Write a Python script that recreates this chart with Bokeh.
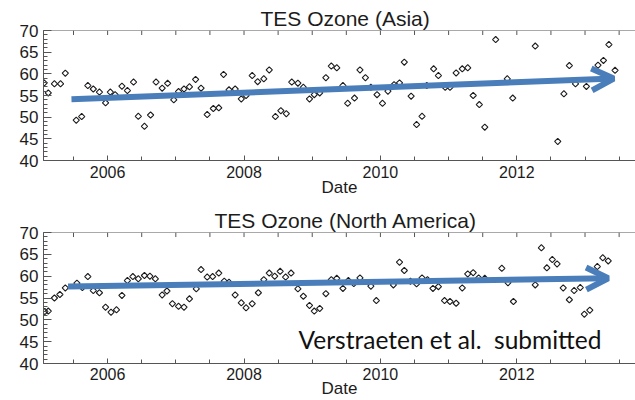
import numpy as np
from bokeh.plotting import figure
from bokeh.layouts import column
from bokeh.models import Range1d, FixedTicker, Arrow, OpenHead, Label, Span
from bokeh.embed import file_html
from bokeh.resources import INLINE

# Monthly mean TES ozone (ppb), decimal year vs. value
asia_date = [2005.07, 2005.13, 2005.22, 2005.31, 2005.38, 2005.54, 2005.62, 2005.71, 2005.79, 2005.88,
             2005.97, 2006.04, 2006.11, 2006.21, 2006.29, 2006.38, 2006.45, 2006.54, 2006.63, 2006.71,
             2006.80, 2006.88, 2006.97, 2007.04, 2007.12, 2007.20, 2007.29, 2007.37, 2007.46, 2007.55,
             2007.63, 2007.70, 2007.78, 2007.87, 2007.96, 2008.03, 2008.12, 2008.20, 2008.29, 2008.37,
             2008.46, 2008.54, 2008.62, 2008.70, 2008.79, 2008.87, 2008.96, 2009.03, 2009.11, 2009.20,
             2009.28, 2009.36, 2009.45, 2009.52, 2009.62, 2009.70, 2009.78, 2009.86, 2009.95, 2010.03,
             2010.11, 2010.20, 2010.28, 2010.35, 2010.45, 2010.53, 2010.61, 2010.68, 2010.78, 2010.85,
             2010.95, 2011.02, 2011.11, 2011.20, 2011.28, 2011.36, 2011.45, 2011.53, 2011.69, 2011.86,
             2011.94, 2012.27, 2012.60, 2012.69, 2012.77, 2012.86, 2013.02, 2013.19, 2013.27, 2013.35,
             2013.44]
asia_ozone = [57.9, 55.6, 57.7, 57.7, 60.15, 49.3, 50.15, 57.3, 56.5, 55.8,
              53.3, 55.8, 55.2, 57.15, 56.15, 58.1, 50.2, 47.9, 50.5, 58.1,
              56.7, 57.8, 54.0, 55.9, 56.5, 57.0, 58.7, 56.7, 50.6, 52.0,
              52.15, 59.85, 56.3, 56.5, 54.2, 55.0, 59.6, 58.2, 58.85, 60.9,
              50.15, 51.5, 50.8, 58.1, 57.85, 56.9, 54.2, 55.2, 55.6, 59.1,
              61.8, 61.4, 57.3, 53.2, 54.4, 60.9, 59.1, 56.9, 55.2, 53.2,
              56.0, 57.5, 57.9, 62.7, 54.85, 48.3, 50.2, 57.3, 61.15, 59.6,
              56.9, 56.9, 60.2, 61.15, 61.4, 55.0, 52.9, 47.7, 67.9, 58.85,
              54.4, 66.4, 44.4, 55.4, 61.9, 57.7, 57.1, 62.0, 63.1, 66.75,
              60.8]

na_date = [2005.08, 2005.13, 2005.22, 2005.30, 2005.38, 2005.55, 2005.63, 2005.71, 2005.79, 2005.88,
           2005.97, 2006.05, 2006.13, 2006.21, 2006.29, 2006.37, 2006.45, 2006.54, 2006.62, 2006.70,
           2006.80, 2006.87, 2006.95, 2007.04, 2007.12, 2007.20, 2007.30, 2007.37, 2007.46, 2007.54,
           2007.63, 2007.71, 2007.78, 2007.87, 2007.96, 2008.03, 2008.12, 2008.21, 2008.29, 2008.37,
           2008.45, 2008.53, 2008.61, 2008.69, 2008.79, 2008.87, 2008.96, 2009.03, 2009.11, 2009.20,
           2009.28, 2009.36, 2009.45, 2009.53, 2009.61, 2009.70, 2009.86, 2009.94, 2010.19, 2010.28,
           2010.35, 2010.44, 2010.53, 2010.61, 2010.69, 2010.77, 2010.85, 2010.94, 2011.02, 2011.11,
           2011.20, 2011.28, 2011.36, 2011.44, 2011.53, 2011.78, 2011.87, 2011.95, 2012.27, 2012.36,
           2012.44, 2012.52, 2012.59, 2012.68, 2012.77, 2012.84, 2012.93, 2012.99, 2013.07, 2013.18,
           2013.26, 2013.34]
na_ozone = [51.9, 52.0, 55.0, 55.8, 57.3, 58.4, 57.4, 59.9, 56.7, 56.2,
            52.9, 51.75, 52.3, 55.6, 59.0, 59.9, 59.4, 60.15, 60.0, 59.4,
            55.7, 56.6, 53.7, 53.1, 52.9, 54.8, 57.1, 61.5, 59.8, 59.9,
            60.7, 58.85, 58.6, 55.7, 53.9, 52.75, 53.7, 56.2, 59.2, 60.7,
            60.0, 61.1, 59.8, 60.7, 57.1, 55.4, 53.3, 52.0, 52.6, 56.0,
            59.2, 59.5, 57.2, 59.0, 58.3, 59.6, 57.7, 54.4, 58.0, 63.2,
            61.3, 58.85, 58.25, 59.6, 59.2, 57.2, 57.6, 54.4, 54.2, 53.8,
            57.3, 60.5, 60.8, 59.6, 59.5, 61.8, 58.5, 54.2, 58.0, 66.5,
            61.9, 63.8, 62.8, 57.3, 54.6, 56.7, 57.4, 51.3, 52.2, 62.2,
            64.2, 63.5]

# Trend arrows (start / end of each fitted line)
asia_trend_x = [2005.47, 2013.42]
asia_trend_y = [54.15, 58.9]
na_trend_x = [2005.42, 2013.34]
na_trend_y = [57.63, 59.53]

year_ticks = [2006, 2008, 2010, 2012]
half_year_ticks = [2005.5 + 0.5 * i for i in range(17)]
ozone_ticks = [40, 45, 50, 55, 60, 65, 70]
ozone_minor = list(range(40, 71))

Y_MIN, Y_MAX = 40, 70
FONT = "Liberation Sans"
INK = "#1c1c1c"
AXIS = "#555555"
BLUE = "#4A7EBB"


def ozone_panel(title, title_offset, dates, ozone, trend_x, trend_y,
                top, bottom, label_standoff, date_standoff):
    p = figure(width=635, height=200,
               x_range=Range1d(2005.06, 2013.74), y_range=Range1d(Y_MIN, Y_MAX),
               output_backend="svg", toolbar_location=None,
               min_border_left=43, min_border_right=0,
               min_border_top=top, min_border_bottom=bottom)
    p.outline_line_color = None
    p.xgrid.visible = False
    p.ygrid.visible = False

    p.title.text = title
    p.title.align = "left"
    p.title.offset = title_offset
    p.title.text_font = FONT
    p.title.text_font_size = "21px"
    p.title.text_font_style = "normal"
    p.title.text_color = INK
    p.title.standoff = 2

    xa = p.xaxis[0]
    xa.ticker = FixedTicker(ticks=year_ticks, minor_ticks=half_year_ticks)
    xa.axis_label = "Date"
    xa.axis_label_text_font = FONT
    xa.axis_label_text_font_size = "17px"
    xa.axis_label_text_font_style = "normal"
    xa.axis_label_text_color = INK
    xa.axis_label_standoff = date_standoff
    xa.major_label_text_font = FONT
    xa.major_label_text_font_size = "16px"
    xa.major_label_text_color = INK
    xa.major_label_standoff = label_standoff
    xa.axis_line_color = AXIS
    xa.major_tick_line_color = AXIS
    xa.minor_tick_line_color = AXIS
    xa.major_tick_in = 5
    xa.major_tick_out = 0
    xa.minor_tick_in = 4
    xa.minor_tick_out = 0

    ya = p.yaxis[0]
    ya.ticker = FixedTicker(ticks=ozone_ticks, minor_ticks=ozone_minor)
    ya.axis_line_color = AXIS
    ya.major_tick_line_color = AXIS
    ya.minor_tick_line_color = AXIS
    ya.major_tick_in = 8
    ya.major_tick_out = 0
    ya.minor_tick_in = 4
    ya.minor_tick_out = 0
    ya.major_label_text_font = FONT
    ya.major_label_text_font_size = "17px"
    ya.major_label_text_color = INK
    ya.major_label_standoff = 5

    # top edge of the frame with its inward half-year ticks
    p.add_layout(Span(location=Y_MAX, dimension="width", line_color=AXIS, line_width=1))
    tick_len = (Y_MAX - Y_MIN) * 4.5 / 130
    p.segment(x0=half_year_ticks, y0=[Y_MAX] * len(half_year_ticks),
              x1=half_year_ticks, y1=[Y_MAX - tick_len] * len(half_year_ticks),
              line_color=AXIS, line_width=1)

    p.scatter(dates, ozone, marker="square", size=4.4, angle=np.pi / 4,
              fill_color=None, line_color=INK, line_width=1.1)

    p.add_layout(Arrow(x_start=trend_x[0], y_start=trend_y[0],
                       x_end=trend_x[1], y_end=trend_y[1],
                       line_color=BLUE, line_width=6,
                       end=OpenHead(size=22, line_color=BLUE, line_width=6)))
    return p


p_asia = ozone_panel("TES Ozone (Asia)", 217, asia_date, asia_ozone,
                     asia_trend_x, asia_trend_y, top=30, bottom=40,
                     label_standoff=5, date_standoff=-3)
p_na = ozone_panel("TES Ozone (North America)", 171, na_date, na_ozone,
                   na_trend_x, na_trend_y, top=32, bottom=37,
                   label_standoff=4, date_standoff=-4)
p_na.add_layout(Label(x=2008.80, y=45.6, text="Verstraeten et al.\u00a0 submitted",
                      text_font="Lato", text_font_size="24.5px",
                      text_color="#111111", text_baseline="alphabetic"))

layout = column(p_asia, p_na)
open("out.html", "w").write(file_html(layout, INLINE))
